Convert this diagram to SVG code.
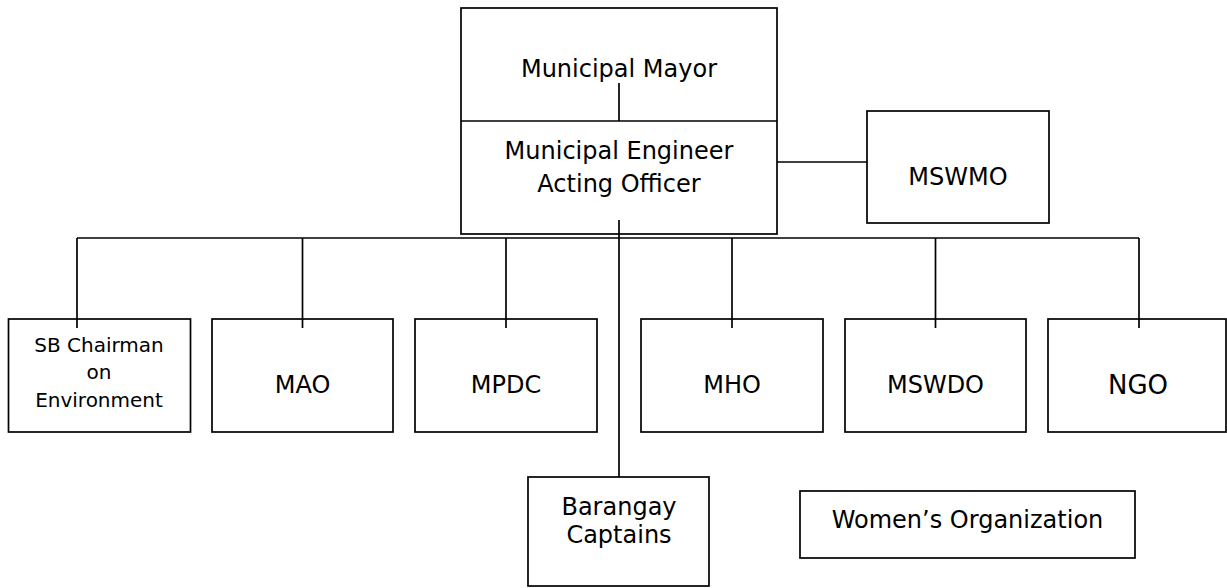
<svg xmlns="http://www.w3.org/2000/svg" width="1227" height="588" viewBox="0 0 1227 588">
<style>
.box{fill:#fff;stroke:#000;stroke-width:1.7}
.ln{fill:none;stroke:#000;stroke-width:1.7}
text{font-family:"DejaVu Sans","Liberation Sans",sans-serif;font-size:24px;fill:#000;text-anchor:middle}
.sm{font-size:20px}
.lg{font-size:26px}
</style>
<rect width="1227" height="588" fill="#fff"/>
<g id="mayor-engineer">
<rect class="box" x="461" y="8" width="316" height="226"/>
<line class="ln" x1="461" y1="121" x2="777" y2="121"/>
<text x="619" y="77">Municipal Mayor</text>
<text x="619" y="159">Municipal Engineer</text>
<text x="619" y="192">Acting Officer</text>
</g>
<g id="mswmo">
<rect class="box" x="867" y="111" width="182" height="112"/>
<text x="958" y="185">MSWMO</text>
</g>
<g id="sb">
<rect class="box" x="8.5" y="319" width="182" height="113"/>
<text class="sm" x="99" y="352">SB Chairman</text>
<text class="sm" x="99" y="379">on</text>
<text class="sm" x="99" y="407">Environment</text>
</g>
<g id="mao">
<rect class="box" x="212" y="319" width="181" height="113"/>
<text x="302.5" y="393">MAO</text>
</g>
<g id="mpdc">
<rect class="box" x="415" y="319" width="182" height="113"/>
<text x="506" y="393">MPDC</text>
</g>
<g id="mho">
<rect class="box" x="641" y="319" width="182" height="113"/>
<text x="732" y="393">MHO</text>
</g>
<g id="mswdo">
<rect class="box" x="845" y="319" width="181" height="113"/>
<text x="935.5" y="393">MSWDO</text>
</g>
<g id="ngo">
<rect class="box" x="1048" y="319" width="178" height="113"/>
<text class="lg" x="1138" y="394">NGO</text>
</g>
<g id="barangay">
<rect class="box" x="528" y="477" width="181" height="109"/>
<text x="619" y="515">Barangay</text>
<text x="619" y="543">Captains</text>
</g>
<g id="women">
<rect class="box" x="800" y="491" width="335" height="67"/>
<text x="967.5" y="528">Women’s Organization</text>
</g>
<g id="connectors">
<line class="ln" x1="619" y1="83" x2="619" y2="121"/>
<line class="ln" x1="777" y1="162" x2="867" y2="162"/>
<line class="ln" x1="619" y1="220" x2="619" y2="477"/>
<line class="ln" x1="77" y1="238" x2="1139" y2="238"/>
<line class="ln" x1="77" y1="238" x2="77" y2="328"/>
<line class="ln" x1="302.5" y1="238" x2="302.5" y2="328"/>
<line class="ln" x1="506" y1="238" x2="506" y2="328"/>
<line class="ln" x1="732" y1="238" x2="732" y2="328"/>
<line class="ln" x1="935.5" y1="238" x2="935.5" y2="328"/>
<line class="ln" x1="1139" y1="238" x2="1139" y2="328"/>
</g>
</svg>
